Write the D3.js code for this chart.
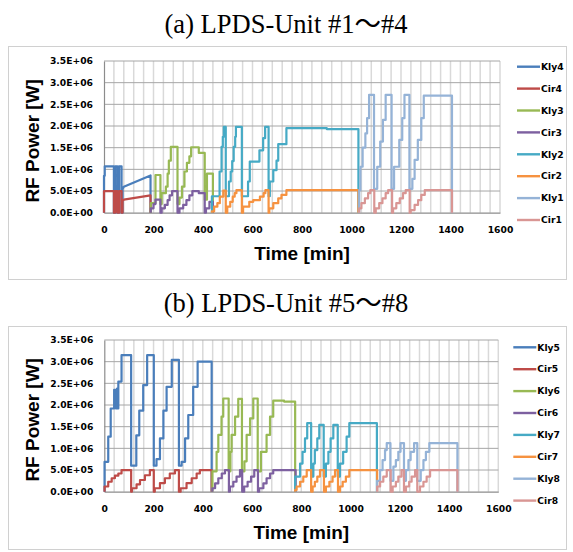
<!DOCTYPE html>
<html lang="en">
<head>
<meta charset="UTF-8">
<title>LPDS-Unit RF power</title>
<script src="https://cdn.jsdelivr.net/npm/d3@7"></script>
<style>
  body { margin: 0; background: #fff; }
  .title { font-family: "Liberation Serif", "Times New Roman", "Noto Sans CJK JP", serif; font-size: 26.5px; fill: #000; }
  .tick text, .legend text { font-family: "DejaVu Sans", sans-serif; font-weight: bold; font-size: 9.2px; fill: #000; }
  .axis-title { font-family: "Liberation Sans", Arial, sans-serif; font-weight: bold; font-size: 19px; fill: #000; }
</style>
</head>
<body>
<svg id="chart" width="573" height="552"></svg>
<script>
// time [min] vs power [MW]
// kly4 / cir4 are plain vertices (they have sloped parts), the rest are step-after breakpoints
const kly4 = [[0,0],[0,0.85],[3,0.85],[3,1.07],[40,1.07],[40,0],[45,0],[45,1.07],[54,1.07],[54,0],[61,0],[61,1.07],[71,1.07],[71,0],[75,0],[75,0.55],[80,0.6],[188,0.86],[188,0]];
const cir4 = [[0,0],[0,0.5],[40,0.5],[40,0],[45,0],[45,0.5],[54,0.5],[54,0],[61,0],[61,0.5],[71,0.5],[71,0],[75,0],[75,0.27],[80,0.3],[188,0.4],[188,0]];
const kly3 = [[189,0.22],[208,0.87],[228,0.2],[233,0.45],[250,0.6],[257,0.9],[262,1.2],[270,1.52],[297,0.2],[305,0.35],[315,0.6],[325,0.95],[335,1.15],[345,1.3],[352,1.51],[383,1.38],[407,0.3],[416,0.9],[440,0]];
const cir3 = [[189,0.1],[200,0.2],[208,0.3],[228,0],[233,0.1],[246,0.18],[257,0.29],[265,0.4],[275,0.5],[297,0],[305,0.1],[320,0.18],[333,0.29],[345,0.4],[357,0.5],[383,0.45],[407,0],[412,0.1],[426,0.25],[440,0]];
const kly2 = [[436,0.38],[467,0.95],[475,1.52],[480,1.75],[484,1.98],[492,0.38],[505,0.72],[512,0.95],[518,1.19],[524,1.52],[530,1.75],[533,1.98],[557,0.38],[582,0.72],[589,1.18],[628,1.44],[643,1.72],[651,1.98],[665,0.38],[670,0.72],[684,0.98],[697,1.2],[704,1.58],[737,1.95],[900,1.93],[1028,0]];
const cir2 = [[436,0.03],[445,0.14],[458,0.22],[468,0.37],[482,0.51],[492,0],[498,0.14],[510,0.25],[520,0.37],[528,0.45],[535,0.52],[557,0],[562,0.14],[587,0.25],[603,0.29],[630,0.37],[645,0.45],[652,0.52],[665,0],[668,0.1],[684,0.22],[704,0.33],[717,0.41],[737,0.52],[1028,0]];
const kly1 = [[1031,0.52],[1036,1.06],[1045,1.5],[1056,1.83],[1063,2.18],[1071,2.72],[1091,0.55],[1104,1.06],[1116,1.64],[1127,2.14],[1138,2.72],[1162,0.55],[1172,1.06],[1193,1.68],[1205,2.18],[1214,2.72],[1234,0.55],[1246,0.78],[1255,1.22],[1268,1.68],[1282,2.18],[1292,2.7],[1406,0]];
const cir1 = [[1031,0.1],[1040,0.22],[1054,0.33],[1067,0.45],[1076,0.52],[1092,0],[1098,0.1],[1112,0.22],[1125,0.33],[1138,0.45],[1148,0.52],[1164,0],[1168,0.1],[1181,0.22],[1195,0.33],[1208,0.45],[1219,0.52],[1235,0],[1239,0.06],[1255,0.18],[1269,0.29],[1282,0.41],[1296,0.52],[1406,0]];

const kly5 = [[1,0.69],[16,1.27],[26,1.92],[40,2.35],[47,1.92],[52,2.38],[54,1.92],[57,2.54],[70,3.15],[109,0.6],[130,1.3],[142,1.87],[158,2.46],[174,3.15],[201,0.6],[212,0.75],[226,1.23],[240,1.87],[253,2.42],[274,3.04],[303,0.6],[314,0.69],[328,1.23],[341,1.77],[361,2.42],[379,3.0],[436,0]];
const cir5 = [[1,0.12],[16,0.23],[30,0.31],[43,0.37],[57,0.42],[70,0.5],[109,0],[112,0.08],[131,0.17],[145,0.27],[165,0.38],[185,0.5],[201,0],[205,0.08],[226,0.2],[246,0.31],[266,0.42],[287,0.5],[303,0],[310,0.08],[334,0.2],[355,0.31],[375,0.42],[388,0.5],[436,0]];
const kly6 = [[439,0.47],[456,0.92],[463,1.31],[476,1.73],[483,2.15],[505,0.47],[512,0.92],[517,1.31],[531,1.73],[544,2.14],[559,0.47],[569,0.7],[578,1.31],[592,1.69],[605,2.15],[623,0.47],[636,0.92],[659,1.31],[673,1.73],[686,2.1],[730,2.08],[775,0]];
const cir6 = [[439,0.08],[450,0.19],[463,0.31],[477,0.42],[490,0.5],[506,0],[510,0.12],[524,0.23],[537,0.35],[551,0.5],[560,0],[568,0.12],[582,0.23],[596,0.35],[609,0.5],[624,0],[629,0.08],[646,0.19],[659,0.31],[673,0.42],[686,0.5],[777,0]];
const kly7 = [[775,0.35],[795,0.65],[805,0.92],[815,1.23],[824,1.58],[840,0.35],[849,0.65],[855,0.96],[865,1.23],[873,1.54],[891,0.35],[900,0.65],[910,0.92],[919,1.23],[930,1.54],[948,0.35],[957,0.65],[970,0.92],[984,1.27],[995,1.58],[1107,0]];
const cir7 = [[775,0.04],[781,0.12],[795,0.23],[808,0.35],[822,0.5],[840,0],[846,0.12],[855,0.23],[865,0.35],[876,0.5],[892,0],[900,0.12],[914,0.23],[927,0.35],[937,0.5],[949,0],[957,0.12],[968,0.23],[981,0.35],[995,0.5],[1108,0]];
const kly8 = [[1108,0.25],[1120,0.5],[1130,0.73],[1140,0.96],[1147,1.12],[1162,0.25],[1174,0.58],[1184,0.73],[1194,0.92],[1203,1.12],[1217,0.25],[1225,0.5],[1235,0.73],[1244,0.92],[1258,1.12],[1271,0.25],[1285,0.5],[1296,0.73],[1306,0.92],[1320,1.12],[1434,0]];
const cir8 = [[1108,0.12],[1120,0.23],[1133,0.35],[1147,0.5],[1163,0],[1171,0.12],[1184,0.23],[1194,0.35],[1207,0.5],[1217,0],[1225,0.12],[1238,0.23],[1248,0.35],[1262,0.5],[1271,0],[1282,0.12],[1296,0.23],[1309,0.35],[1323,0.5],[1434,0]];

const namesA = ["Kly4", "Cir4", "Kly3", "Cir3", "Kly2", "Cir2", "Kly1", "Cir1"];
const namesB = ["Kly5", "Cir5", "Kly6", "Cir6", "Kly7", "Cir7", "Kly8", "Cir8"];
const colors = ["#4a7ebb", "#be4b48", "#98b954", "#7d60a0", "#46aac5", "#f69240", "#95b3d7", "#d99694"];
const xTicks = d3.range(0, 1601, 200);
const yTicks = d3.range(0, 3.5e6 + 1, 5e5);

const panels = [
  { title: "(a) LPDS-Unit #1～#4", names: namesA, data: [kly4, cir4, kly3, cir3, kly2, cir2, kly1, cir1],
    titleY: 33, box: [8, 46, 566, 279], plot: [104, 61, 500, 212.7], legend: [517, 66.7] },
  { title: "(b) LPDS-Unit #5～#8", names: namesB, data: [kly5, cir5, kly6, cir6, kly7, cir7, kly8, cir8],
    titleY: 312, box: [8, 326, 566, 549], plot: [104.3, 340, 498.3, 491.7], legend: [513.3, 347.3] }
];

const svg = d3.select("#chart");

function sci(d) {
  if (d === 0) return "0.0E+00";
  const e = Math.floor(Math.log10(d) + 1e-9);
  return (d / Math.pow(10, e)).toFixed(1) + "E+" + String(e).padStart(2, "0");
}

panels.forEach((p, pi) => {
  const [px0, py0, px1, py1] = p.plot;
  const x = d3.scaleLinear().domain([0, 1600]).range([px0, px1]);
  const y = d3.scaleLinear().domain([0, 3.5e6]).range([py1, py0]);

  svg.append("text").attr("class", "title")
    .attr("x", 286).attr("y", p.titleY).attr("text-anchor", "middle").text(p.title);

  svg.append("rect")
    .attr("x", p.box[0] + 0.5).attr("y", p.box[1] + 0.5)
    .attr("width", p.box[2] - p.box[0]).attr("height", p.box[3] - p.box[1])
    .attr("fill", "#fff").attr("stroke", "#d0d0d0");

  const g = svg.append("g");

  // light vertical grid every 40 min
  g.selectAll(".vgrid").data(d3.range(40, 1601, 40)).join("line")
    .attr("x1", d => x(d)).attr("x2", d => x(d))
    .attr("y1", py0).attr("y2", py1)
    .attr("stroke", "#d9d9d9").attr("stroke-width", 1.5);

  g.selectAll(".hgrid").data(yTicks.slice(1)).join("line")
    .attr("x1", px0).attr("x2", px1)
    .attr("y1", d => y(d)).attr("y2", d => y(d))
    .attr("stroke", "#a6a6a6").attr("stroke-width", 1);

  const xa = g.append("g").attr("transform", `translate(0,${py1})`)
    .call(d3.axisBottom(x).tickValues(xTicks).tickSize(0).tickPadding(13.5).tickFormat(d3.format("d")));
  xa.select(".domain").attr("stroke", "#8c8c8c").attr("stroke-width", 1.2);

  const ya = g.append("g").attr("transform", `translate(${px0},0)`)
    .call(d3.axisLeft(y).tickValues(yTicks).tickSize(0).tickPadding(11).tickFormat(sci));
  ya.select(".domain").attr("stroke", "#8c8c8c").attr("stroke-width", 1.2);

  g.append("text").attr("class", "axis-title")
    .attr("x", (px0 + px1) / 2).attr("y", py1 + 47).attr("text-anchor", "middle")
    .text("Time [min]");
  g.append("text").attr("class", "axis-title")
    .attr("transform", `translate(39,${(py0 + py1) / 2 + 4}) rotate(-90)`)
    .attr("text-anchor", "middle").text("RF Power [W]");

  p.data.forEach((series, i) => {
    const stepped = i > 1 || pi === 1;
    const pts = stepped ? [[series[0][0], 0]].concat(series) : series;
    const line = d3.line()
      .x(d => x(d[0])).y(d => y(d[1] * 1e6))
      .curve(stepped ? d3.curveStepAfter : d3.curveLinear);
    g.append("path").datum(pts)
      .attr("d", line)
      .attr("fill", "none")
      .attr("stroke", colors[i])
      .attr("stroke-width", 2.2)
      .attr("stroke-linejoin", "round");
  });

  const lg = g.append("g").attr("class", "legend");
  p.names.forEach((name, i) => {
    const ly = p.legend[1] + i * 21.9;
    lg.append("line")
      .attr("x1", p.legend[0]).attr("x2", p.legend[0] + 23)
      .attr("y1", ly).attr("y2", ly)
      .attr("stroke", colors[i]).attr("stroke-width", 2.4);
    lg.append("text")
      .attr("x", p.legend[0] + 24).attr("y", ly).attr("dy", "0.35em")
      .text(name);
  });
});
</script>
</body>
</html>
